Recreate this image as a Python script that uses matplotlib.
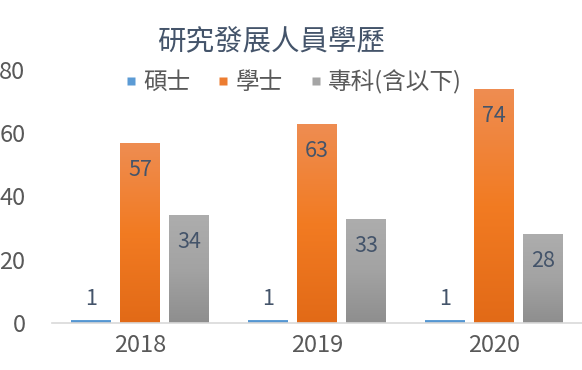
import numpy as np
import matplotlib
matplotlib.use("Agg")
import matplotlib.pyplot as plt
from matplotlib.colors import LinearSegmentedColormap
from matplotlib.lines import Line2D

plt.rcParams['font.family'] = ['Noto Sans CJK TC', 'DejaVu Sans']

years = ['2018', '2019', '2020']
series = ['碩士', '學士', '專科(含以下)']
master = [1, 1, 1]
bachelor = [57, 63, 74]
college = [34, 33, 28]

# gradient colours (top -> bottom)
grads = [
    ['#6FA8DC', '#5B9BD5', '#4A89C6'],
    ['#EE8D52', '#F27B22', '#E26A17'],
    ['#ADADAD', '#A3A3A3', '#8E8E8E'],
]
legend_colors = ['#5B9BD5', '#ED7D31', '#A5A5A5']

fig = plt.figure(figsize=(5.82, 3.70), dpi=100)
ax = fig.add_axes([0.089, 0.127, 0.911, 0.684])

x = np.arange(len(years))
width = 0.226
step = 0.277
text_col = '#595959'
label_col = '#44546A'

grad_img = np.linspace(0, 1, 256).reshape(-1, 1)
for i, vals in enumerate([master, bachelor, college]):
    cmap = LinearSegmentedColormap.from_list('g%d' % i, grads[i])
    bars = ax.bar(x + (i - 1) * step, vals, width, color='none', edgecolor='none', zorder=2)
    for b, v in zip(bars, vals):
        x0, y0 = b.get_x(), b.get_y()
        im = ax.imshow(grad_img, cmap=cmap, aspect='auto', origin='upper',
                       extent=[x0, x0 + b.get_width(), y0, y0 + b.get_height()], zorder=2)
        im.set_clip_path(b)
        cx = x0 + b.get_width() / 2
        if v > 10:
            ax.annotate(str(v), (cx, v), xytext=(0, -11.5), textcoords='offset points',
                        ha='center', va='top', fontsize=15.5, color=label_col)
        else:
            ax.annotate(str(v), (cx, v), xytext=(0, 6.8), textcoords='offset points',
                        ha='center', va='bottom', fontsize=15.5, color=label_col)

ax.set_xlim(-0.5, 2.5)
ax.set_ylim(0, 80)
ax.set_yticks([0, 20, 40, 60, 80])
ax.set_xticks(x)
ax.set_xticklabels(years)
ax.tick_params(axis='both', length=0, labelsize=17, labelcolor=text_col)
ax.tick_params(axis='y', pad=19)
ax.tick_params(axis='x', pad=8)
for s in ['top', 'right', 'left']:
    ax.spines[s].set_visible(False)
ax.spines['bottom'].set_color('#D9D9D9')
ax.spines['bottom'].set_linewidth(1.2)

fig.text(0.465, 0.886, '研究發展人員學歷', ha='center', va='center',
         fontsize=20.5, color=label_col)

handles = [Line2D([], [], linestyle='none', marker='s', markersize=5.2,
                  markerfacecolor=c, markeredgecolor='none') for c in legend_colors]
fig.legend(handles, series, loc='center', bbox_to_anchor=(0.505, 0.778), ncol=3,
           frameon=False, fontsize=17, labelcolor=text_col,
           handlelength=0.45, handletextpad=0.3, columnspacing=1.15)

fig.savefig('out.png', dpi=100)
